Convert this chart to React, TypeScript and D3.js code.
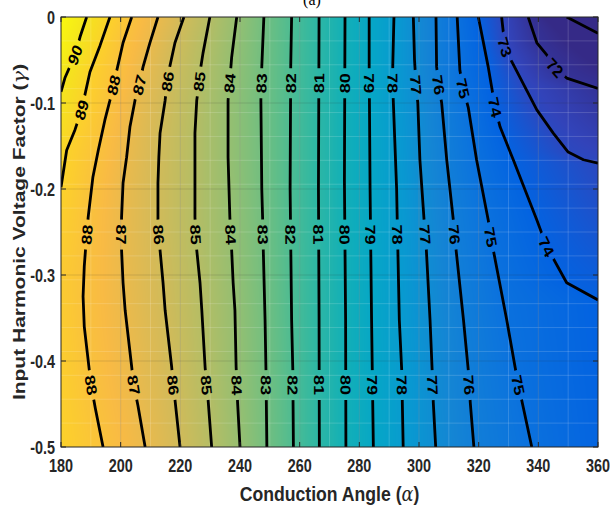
import React, { useMemo } from "react";
import * as d3 from "d3";

const W = 610;
const H = 506;
const PL = 61, PR = 598, PT = 17, PB = 447;
const SX = 0.8; // horizontal squeeze of the text glyphs

// ---- axes ----
const xTicks = [180, 200, 220, 240, 260, 280, 300, 320, 340, 360];
const yTicks = [0, -0.1, -0.2, -0.3, -0.4, -0.5];
const yTickLabels = ["0", "-0.1", "-0.2", "-0.3", "-0.4", "-0.5"];

// ---- contour lines: [alpha, gamma] ----
const c90 = [[188.6, 0], [186.4, -0.023], [184.7, -0.044], [181.3, -0.071], [180, -0.087]];
const c89 = [[196.4, 0], [193.1, -0.033], [189.7, -0.064], [186.9, -0.108], [184.7, -0.131], [181.9, -0.155], [180, -0.198]];
const c88 = [[203.7, 0], [200.8, -0.03], [198.7, -0.062], [197.6, -0.079], [196.4, -0.097], [194.7, -0.12], [192.5, -0.155], [190.7, -0.186], [189.1, -0.233], [188.4, -0.262], [187.8, -0.29], [187.4, -0.325], [187.8, -0.36], [188.8, -0.39], [190.0, -0.426], [191.5, -0.455], [194.1, -0.5]];
const c87 = [[212.5, 0], [209.8, -0.03], [207.5, -0.058], [206.2, -0.079], [204.8, -0.097], [203.1, -0.128], [202.0, -0.163], [200.8, -0.193], [200.3, -0.233], [200.3, -0.271], [200.8, -0.309], [201.5, -0.341], [203.7, -0.407], [204.3, -0.426], [205.8, -0.452], [208.2, -0.5]];
const c86 = [[221.2, 0], [218.2, -0.03], [216.2, -0.062], [215.5, -0.079], [214.9, -0.097], [213.2, -0.135], [212.8, -0.163], [212.5, -0.193], [212.5, -0.24], [213.2, -0.271], [214.2, -0.309], [214.9, -0.341], [217.1, -0.407], [217.6, -0.426], [218.2, -0.445], [219.9, -0.5]];
const c85 = [[229.9, 0], [227.6, -0.042], [226.6, -0.064], [226.2, -0.079], [225.5, -0.097], [224.9, -0.135], [224.9, -0.233], [225.5, -0.271], [226.6, -0.309], [227.2, -0.341], [228.3, -0.407], [228.8, -0.428], [229.3, -0.445], [230.5, -0.5]];
const c84 = [[238.9, 0], [237.2, -0.047], [236.6, -0.073], [236.0, -0.097], [236.0, -0.163], [236.6, -0.233], [237.2, -0.271], [237.7, -0.309], [238.3, -0.341], [238.7, -0.407], [239.2, -0.449], [240.0, -0.5]];
const c83 = [[248.0, 0], [247.3, -0.058], [247.0, -0.097], [247.3, -0.2], [247.6, -0.236], [247.8, -0.27], [248.4, -0.352], [248.7, -0.41], [249.0, -0.5]];
const c82 = [[257.3, 0], [257.0, -0.058], [256.8, -0.2], [257.3, -0.352], [257.7, -0.41], [257.9, -0.5]];
const c81 = [[266.5, 0], [266.3, -0.2], [266.5, -0.35], [266.6, -0.5]];
const c80 = [[275.2, 0], [275.0, -0.19], [275.4, -0.352], [275.5, -0.5]];
const c79 = [[283.3, 0], [283.3, -0.058], [283.6, -0.2], [284.1, -0.352], [284.7, -0.5]];
const c78 = [[291.6, 0], [291.2, -0.058], [291.3, -0.09], [292.5, -0.2], [292.7, -0.236], [293.4, -0.352], [294.2, -0.41], [294.7, -0.5]];
const c77 = [[298.1, 0], [298.5, -0.05], [299.0, -0.079], [299.6, -0.1], [300.3, -0.166], [301.7, -0.236], [302.3, -0.26], [303.7, -0.352], [304.4, -0.41], [304.8, -0.449], [305.6, -0.5]];
const c76 = [[305.7, 0], [305.9, -0.058], [306.6, -0.079], [307.6, -0.1], [309.3, -0.166], [311.5, -0.236], [312.1, -0.26], [314.9, -0.352], [316.5, -0.41], [317.2, -0.449], [318.4, -0.5]];
const c75 = [[312.8, 0], [313.7, -0.062], [314.8, -0.083], [316.5, -0.105], [319.3, -0.166], [323.2, -0.236], [324.3, -0.26], [329.4, -0.352], [332.2, -0.407], [333.3, -0.428], [334.4, -0.445], [337.8, -0.5]];
const c74 = [[319.9, 0], [323.2, -0.058], [325.5, -0.105], [327.2, -0.128], [331.6, -0.166], [339.5, -0.236], [342.8, -0.267], [349.5, -0.309], [360, -0.329]];
const c73 = [[327.7, 0], [328.8, -0.035], [331.1, -0.052], [339.5, -0.108], [345.0, -0.135], [350.0, -0.157], [355.1, -0.166], [360, -0.17]];
const c72 = [[336.6, 0], [339.5, -0.03], [343.3, -0.046], [345.6, -0.059], [349.5, -0.071], [360, -0.083]];
const c71 = [[349.5, 0], [360, -0.019]];

const contourLevels = [90, 89, 88, 87, 86, 85, 84, 83, 82, 81, 80, 79, 78, 77, 76, 75, 74, 73, 72, 71];
const contourPaths = [c90, c89, c88, c87, c86, c85, c84, c83, c82, c81, c80, c79, c78, c77, c76, c75, c74, c73, c72, c71];

// values along the left (alpha=180) and right (alpha=360) edges
const leftEdgeGamma = [0, -0.087, -0.198, -0.3, -0.5];
const leftEdgeValue = [91.1, 90, 89, 88.55, 88.95];
const rightEdgeGamma = [0, -0.019, -0.083, -0.17, -0.329, -0.5];
const rightEdgeValue = [70.2, 71, 72, 73, 74, 74.15];

// contour labels: [level, gamma]
const labelsTop = [[90, -0.044], [89, -0.108], [88, -0.079], [87, -0.079], [86, -0.075], [85, -0.075], [84, -0.077], [83, -0.077], [82, -0.077], [81, -0.077], [80, -0.077], [79, -0.077], [78, -0.077], [77, -0.079], [76, -0.079], [75, -0.083], [74, -0.105], [73, -0.035], [72, -0.059]];
const labelsMid = [[88, -0.253], [87, -0.253], [86, -0.253], [85, -0.253], [84, -0.253], [83, -0.253], [82, -0.253], [81, -0.253], [80, -0.253], [79, -0.253], [78, -0.253], [77, -0.253], [76, -0.253], [75, -0.256], [74, -0.267]];
const labelsBot = [[88, -0.428], [87, -0.428], [86, -0.428], [85, -0.428], [84, -0.428], [83, -0.428], [82, -0.428], [81, -0.428], [80, -0.428], [79, -0.428], [78, -0.428], [77, -0.428], [76, -0.428], [75, -0.428]];

// parula colormap stops
const PARULA = [
  [0.2081, 0.1663, 0.5292], [0.1959, 0.2645, 0.7279], [0.0117, 0.3875, 0.882], [0.0498, 0.4586, 0.8641],
  [0.0793, 0.52, 0.8312], [0.0343, 0.5966, 0.8199], [0.0228, 0.6535, 0.7768], [0.0843, 0.6928, 0.7062],
  [0.2178, 0.725, 0.6193], [0.3953, 0.7459, 0.5244], [0.5709, 0.7485, 0.4494], [0.7184, 0.7411, 0.3905],
  [0.8507, 0.7299, 0.336], [0.9739, 0.7314, 0.2666], [0.988, 0.8066, 0.1794], [0.9589, 0.8949, 0.1132],
  [0.9763, 0.9831, 0.0538],
];
const CMIN = 71.6, CMAX = 91.2;

function parula(t: number): [number, number, number] {
  const tt = Math.max(0, Math.min(1, t));
  const p = tt * (PARULA.length - 1);
  const i = Math.min(PARULA.length - 2, Math.floor(p));
  const f = p - i;
  const a = PARULA[i], b = PARULA[i + 1];
  return [0, 1, 2].map((k) => Math.round(255 * (a[k] + f * (b[k] - a[k])))) as [number, number, number];
}

function crossAt(pts: number[][], g: number): number | null {
  for (let i = 0; i < pts.length - 1; i++) {
    const g1 = pts[i][1], g2 = pts[i + 1][1];
    if ((g <= g1 && g >= g2) || (g >= g1 && g <= g2)) {
      if (g1 === g2) return pts[i][0];
      const t = (g - g1) / (g2 - g1);
      return pts[i][0] + t * (pts[i + 1][0] - pts[i][0]);
    }
  }
  return null;
}

function edgeValue(gs: number[], vs: number[], g: number) {
  for (let i = 0; i < gs.length - 1; i++) {
    if (g <= gs[i] && g >= gs[i + 1]) {
      const t = (g - gs[i]) / (gs[i + 1] - gs[i]);
      return vs[i] + t * (vs[i + 1] - vs[i]);
    }
  }
  return g > gs[0] ? vs[0] : vs[vs.length - 1];
}

const FONT = "'Liberation Sans', Arial, Helvetica, sans-serif";
const INK = "#262626";

export default function App() {
  const x = d3.scaleLinear().domain([180, 360]).range([PL, PR]);
  const y = d3.scaleLinear().domain([0, -0.5]).range([PT, PB]);

  const imgUrl = useMemo(() => {
    const w = PR - PL, h = PB - PT;
    const canvas = document.createElement("canvas");
    canvas.width = w;
    canvas.height = h;
    const ctx = canvas.getContext("2d");
    if (!ctx) return "";
    const img = ctx.createImageData(w, h);
    for (let j = 0; j < h; j++) {
      const g = y.invert(PT + j + 0.5);
      const knots: [number, number][] = [];
      knots.push([180, edgeValue(leftEdgeGamma, leftEdgeValue, g)]);
      contourPaths.forEach((pts, k) => {
        const cx = crossAt(pts, g);
        if (cx !== null && cx > 180.05 && cx < 359.95) knots.push([cx, contourLevels[k]]);
      });
      knots.push([360, edgeValue(rightEdgeGamma, rightEdgeValue, g)]);
      knots.sort((a, b) => a[0] - b[0]);
      let kk = 0;
      for (let i = 0; i < w; i++) {
        const a = x.invert(PL + i + 0.5);
        while (kk < knots.length - 2 && a > knots[kk + 1][0]) kk++;
        const k0 = knots[kk], k1 = knots[kk + 1];
        const t = k1[0] === k0[0] ? 0 : (a - k0[0]) / (k1[0] - k0[0]);
        const z = k0[1] + Math.max(0, Math.min(1, t)) * (k1[1] - k0[1]);
        const c = parula((z - CMIN) / (CMAX - CMIN));
        const idx = (j * w + i) * 4;
        img.data[idx] = c[0];
        img.data[idx + 1] = c[1];
        img.data[idx + 2] = c[2];
        img.data[idx + 3] = 255;
      }
    }
    ctx.putImageData(img, 0, 0);
    return canvas.toDataURL();
  }, []);

  const line = d3
    .line<number[]>()
    .x((d) => x(d[0]))
    .y((d) => y(d[1]));

  const allLabels = [...labelsTop, ...labelsMid, ...labelsBot].map(([lev, g]) => {
    const pts = contourPaths[contourLevels.indexOf(lev)];
    const cx = crossAt(pts, g)!;
    const d = 0.012;
    const gA = Math.min(0, g + d), gB = Math.max(-0.5, g - d);
    let xa = crossAt(pts, gA), xb = crossAt(pts, gB);
    let ga = gA, gb = gB;
    if (xa === null) { xa = cx; ga = g; }
    if (xb === null) { xb = cx; gb = g; }
    const dx = x(xb) - x(xa), dy = y(gb) - y(ga);
    let ang = (Math.atan2(dy, dx / SX) * 180) / Math.PI;
    if (ang > 90) ang -= 180;
    if (ang <= -90) ang += 180;
    return { lev, px: x(cx), py: y(g), ang };
  });

  const meshX = d3.range(190, 360, 10);
  const meshY = d3.range(1, 18).map((i) => -i * (0.5 / 18));

  return (
    <svg width={W} height={H} style={{ position: "absolute", left: 0, top: 0, background: "#fff" }}>
      <defs>
        <clipPath id="plotClip">
          <rect x={PL} y={PT} width={PR - PL} height={PB - PT} />
        </clipPath>
        <mask id="gapMask" maskUnits="userSpaceOnUse" x={0} y={0} width={W} height={H}>
          <rect x={0} y={0} width={W} height={H} fill="#fff" />
          {allLabels.map((l, i) => (
            <rect
              key={i}
              x={-15}
              y={-9}
              width={30}
              height={18}
              fill="#000"
              transform={`translate(${l.px},${l.py}) scale(${SX},1) rotate(${l.ang})`}
            />
          ))}
        </mask>
      </defs>
      <image href={imgUrl} x={PL} y={PT} width={PR - PL} height={PB - PT} preserveAspectRatio="none" />
      <g clipPath="url(#plotClip)">
        {meshX.map((v) => (
          <line key={"mx" + v} x1={x(v)} x2={x(v)} y1={PT} y2={PB} stroke="#fff" strokeOpacity={0.16} strokeWidth={1} />
        ))}
        {meshY.map((v, i) => (
          <line key={"my" + i} x1={PL} x2={PR} y1={y(v)} y2={y(v)} stroke="#fff" strokeOpacity={0.16} strokeWidth={1} />
        ))}
        {xTicks.slice(1, -1).map((v) => (
          <line key={"gx" + v} x1={x(v)} x2={x(v)} y1={PT} y2={PB} stroke={INK} strokeOpacity={0.15} />
        ))}
        {yTicks.slice(1, -1).map((v) => (
          <line key={"gy" + v} x1={PL} x2={PR} y1={y(v)} y2={y(v)} stroke={INK} strokeOpacity={0.15} />
        ))}
        <g mask="url(#gapMask)">
          {contourPaths.map((pts, i) => (
            <path key={i} d={line(pts) || ""} fill="none" stroke="#000" strokeWidth={2.8} strokeLinejoin="round" />
          ))}
        </g>
        {allLabels.map((l, i) => (
          <text
            key={i}
            transform={`translate(${l.px},${l.py}) scale(${SX},1) rotate(${l.ang})`}
            textAnchor="middle"
            dominantBaseline="central"
            fontFamily={FONT}
            fontWeight="bold"
            fontSize={18}
            fill="#000"
          >
            {l.lev}
          </text>
        ))}
      </g>
      {/* axes box */}
      <rect x={PL} y={PT} width={PR - PL} height={PB - PT} fill="none" stroke={INK} strokeWidth={1} />
      {xTicks.map((v) => (
        <g key={"xt" + v}>
          <line x1={x(v)} x2={x(v)} y1={PB} y2={PB - 5} stroke={INK} />
          <line x1={x(v)} x2={x(v)} y1={PT} y2={PT + 5} stroke={INK} />
          <text
            transform={`translate(${x(v)},472) scale(${SX},1)`}
            textAnchor="middle"
            fontFamily={FONT}
            fontWeight="bold"
            fontSize={18}
            fill={INK}
          >
            {v}
          </text>
        </g>
      ))}
      {yTicks.map((v, i) => (
        <g key={"yt" + i}>
          <line x1={PL} x2={PL + 5} y1={y(v)} y2={y(v)} stroke={INK} />
          <line x1={PR} x2={PR - 5} y1={y(v)} y2={y(v)} stroke={INK} />
          <text
            transform={`translate(55,${y(v) + 6.5}) scale(${SX},1)`}
            textAnchor="end"
            fontFamily={FONT}
            fontWeight="bold"
            fontSize={18}
            fill={INK}
          >
            {yTickLabels[i]}
          </text>
        </g>
      ))}
      <text
        transform={`translate(${(PL + PR) / 2},501) scale(0.84,1)`}
        textAnchor="middle"
        fontFamily={FONT}
        fontWeight="bold"
        fontSize={21}
        fill={INK}
      >
        Conduction Angle (<tspan fontFamily="'DejaVu Serif', serif" fontStyle="italic" fontWeight="normal">α</tspan>)
      </text>
      <text
        transform={`translate(25,${(PT + PB) / 2}) scale(${SX},1) rotate(-90)`}
        textAnchor="middle"
        fontFamily={FONT}
        fontWeight="bold"
        fontSize={21}
        fill={INK}
      >
        Input Harmonic Voltage Factor (<tspan fontFamily="'DejaVu Serif', serif" fontStyle="italic" fontWeight="normal">γ</tspan>)
      </text>
      <text x={312} y={5} textAnchor="middle" fontFamily="'Liberation Serif', 'Times New Roman', serif" fontSize={16} fill="#000">
        (a)
      </text>
    </svg>
  );
}
